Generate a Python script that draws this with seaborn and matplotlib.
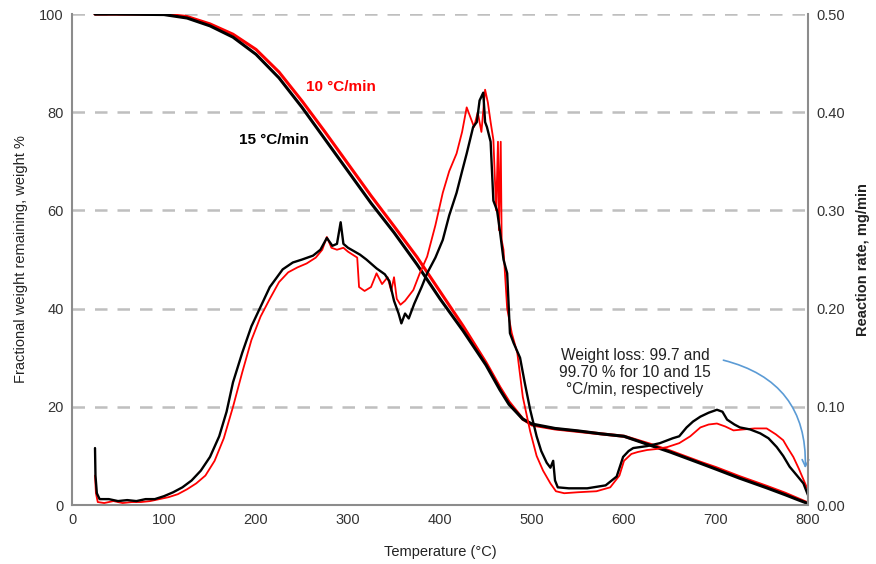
import matplotlib
matplotlib.use("Agg")
import matplotlib.pyplot as plt
import seaborn as sns
import pandas as pd

# TGA: fractional weight remaining (%)
tga_temp = [25, 50, 100, 125, 150, 175, 200, 225, 250, 275, 300, 325, 350, 375, 400,
            425, 450, 465, 475, 490, 500, 525, 550, 575, 600, 628, 650, 683, 700, 725,
            755, 775, 790, 800]
tga_15 = [100, 100, 99.9, 99.2, 97.6, 95.3, 91.8, 87, 81, 74.5, 68, 61.5, 55.5, 49, 42,
          35.5, 28.5, 23.5, 20.5, 17.5, 16.5, 15.6, 15.1, 14.5, 14.0, 12.2, 10.8, 8.5, 7.3, 5.5,
          3.5, 2.1, 1.0, 0.3]
tga_10 = [100, 100, 100, 99.5, 98.0, 95.9, 92.8, 88.2, 82.3, 76.0, 69.5, 63, 56.8, 50.5, 43.5,
          36.5, 29, 24, 21, 17.5, 16.3, 15.5, 15.0, 14.5, 14.0, 12.4, 11.0, 8.7, 7.6, 5.8,
          3.8, 2.4, 1.2, 0.4]

# DTG: reaction rate (mg/min), 15 C/min
dtg15_temp = [25, 25.5, 27, 30, 40, 50, 60, 70, 80, 90, 100, 110, 120, 130, 140, 150, 160, 168,
              175, 185, 195, 204, 215, 229, 240, 250, 262, 270, 277, 283, 288, 292, 295, 300,
              313, 320, 331, 340, 345, 350, 355, 358, 362, 366, 372, 380, 386, 395, 403, 410,
              418, 424, 429, 436, 440, 443, 447, 449, 451, 455, 458, 462, 465, 469, 473, 476,
              480, 487, 492, 498, 505, 510, 516, 520, 523, 525, 528, 540, 560, 580, 592, 599,
              605, 610, 625, 639, 653, 660, 668, 675, 683, 692, 701, 707, 712, 720, 726, 737,
              748, 757, 766, 773, 780, 788, 795, 800]
dtg15 = [0.058, 0.03, 0.012, 0.006, 0.006, 0.004, 0.005, 0.004, 0.006, 0.006, 0.009, 0.013,
         0.018, 0.025, 0.035, 0.049, 0.07, 0.095, 0.125, 0.155, 0.182, 0.2, 0.222, 0.24, 0.247,
         0.25, 0.254, 0.26, 0.272, 0.264, 0.266, 0.288, 0.266, 0.262, 0.255, 0.25, 0.241, 0.235,
         0.228, 0.208, 0.195, 0.185, 0.195, 0.19, 0.205, 0.222, 0.236, 0.252, 0.27, 0.295, 0.318,
         0.34, 0.358, 0.385, 0.39, 0.412, 0.42, 0.39, 0.385, 0.37, 0.31, 0.3, 0.28, 0.25, 0.236,
         0.175, 0.165, 0.15, 0.125, 0.097, 0.07, 0.055, 0.043, 0.038, 0.045, 0.025, 0.018, 0.017,
         0.017, 0.02, 0.029, 0.049, 0.055, 0.058, 0.06, 0.063, 0.068, 0.07, 0.079, 0.085, 0.09,
         0.094, 0.097, 0.095, 0.087, 0.082, 0.079, 0.077, 0.073, 0.068, 0.059, 0.05, 0.039, 0.03,
         0.022, 0.01]

# DTG: reaction rate (mg/min), 10 C/min
dtg10_temp = [25, 26, 28, 35, 45, 55, 65, 75, 85, 95, 105, 115, 125, 135, 145, 155, 165, 175,
              185, 195, 205, 215, 225, 235, 245, 255, 265, 272, 277, 282, 288, 295, 300, 305,
              310, 312, 318, 325, 331, 337, 343, 347, 350, 353, 357, 362, 371, 378, 386, 395,
              403, 410, 418, 424, 429, 433, 437, 441, 445, 449, 452, 455, 458, 461, 463, 464,
              466, 467, 469, 473, 478, 484, 490, 498, 505, 512, 520, 526, 535, 550, 570, 585,
              595, 600, 608, 615, 625, 635, 647, 660, 672, 683, 692, 701, 710, 719, 730, 742,
              755, 765, 773, 778, 784, 790, 795, 800]
dtg10 = [0.03, 0.012, 0.003, 0.002, 0.004, 0.002, 0.003, 0.003, 0.004, 0.006, 0.008, 0.011,
         0.016, 0.022, 0.03, 0.045, 0.068, 0.1, 0.135, 0.168, 0.192, 0.21, 0.227, 0.237, 0.242,
         0.246, 0.252, 0.26, 0.273, 0.262, 0.26, 0.262, 0.258, 0.255, 0.252, 0.222, 0.218, 0.222,
         0.236, 0.225, 0.232, 0.218, 0.232, 0.21, 0.204, 0.208, 0.219, 0.236, 0.253, 0.285, 0.318,
         0.34, 0.358, 0.38, 0.405, 0.395, 0.385, 0.4, 0.38, 0.423, 0.41, 0.39, 0.372, 0.3, 0.37,
         0.28, 0.37, 0.27, 0.26, 0.2, 0.175, 0.155, 0.11, 0.075, 0.05, 0.035, 0.022, 0.014, 0.012,
         0.013, 0.014, 0.018, 0.03, 0.045, 0.052, 0.054, 0.056, 0.057, 0.059, 0.063, 0.07, 0.079,
         0.082, 0.083, 0.08, 0.076, 0.077, 0.078, 0.078, 0.072, 0.066, 0.058, 0.049, 0.037, 0.026,
         0.015]

sns.set_theme(style="white")
plt.rcParams['font.family'] = ['Liberation Sans', 'DejaVu Sans']

fig = plt.figure(figsize=(8.76, 5.64), dpi=100)
ax = fig.add_axes([0.0822, 0.1046, 0.8402, 0.8704])
ax2 = ax.twinx()

tga = pd.DataFrame({'T': tga_temp, 'w10': tga_10, 'w15': tga_15})
d15 = pd.DataFrame({'T': dtg15_temp, 'r': dtg15})
d10 = pd.DataFrame({'T': dtg10_temp, 'r': dtg10})

red = '#ff0000'
sns.lineplot(data=d10, x='T', y='r', ax=ax2, color=red, lw=1.3, sort=False, estimator=None)
sns.lineplot(data=d15, x='T', y='r', ax=ax2, color='black', lw=1.7, sort=False, estimator=None)
sns.lineplot(data=tga, x='T', y='w10', ax=ax, color=red, lw=2.2, sort=False, estimator=None)
sns.lineplot(data=tga, x='T', y='w15', ax=ax, color='black', lw=2.2, sort=False, estimator=None)

ax.set_xlim(0, 800)
ax.set_ylim(0, 100)
ax2.set_ylim(0, 0.5)
ax.set_xticks(range(0, 801, 100))
ax.set_yticks(range(0, 101, 20))
ax2.set_yticks([0, 0.1, 0.2, 0.3, 0.4, 0.5])
ax2.set_yticklabels([f'{v:.2f}' for v in [0, 0.1, 0.2, 0.3, 0.4, 0.5]])

for g in [20, 40, 60, 80, 100]:
    ax.axhline(g, color='#bfbfbf', lw=1.8, ls=(0, (5, 4)), zorder=0)

for a in (ax, ax2):
    for s in a.spines.values():
        s.set_visible(False)
    a.tick_params(length=0, labelsize=10.5, colors='#333333', pad=6)
ax.spines['left'].set_visible(True)
ax.spines['bottom'].set_visible(True)
ax2.spines['right'].set_visible(True)
for s in (ax.spines['left'], ax.spines['bottom'], ax2.spines['right']):
    s.set_color('#8c8c8c')
    s.set_linewidth(1.5)

ax.set_xlabel('Temperature (°C)', fontsize=10.5, color='#222222', labelpad=13)
ax.set_ylabel('Fractional weight remaining, weight %', fontsize=10.5, color='#222222', labelpad=8)
ax2.set_ylabel('Reaction rate, mg/min', fontsize=10.5, fontweight='bold', color='#222222', labelpad=8)

ax.text(292, 85.1, '10 °C/min', color=red, fontsize=11, fontweight='bold', ha='center', va='center')
ax.text(220, 74.3, '15 °C/min', color='black', fontsize=11, fontweight='bold', ha='center', va='center')

ax.text(612, 27.0, 'Weight loss: 99.7 and\n99.70 % for 10 and 15\n°C/min, respectively',
        fontsize=11.2, color='#222222', ha='center', va='center', linespacing=1.2)
ax.annotate('', xy=(797, 7.5), xytext=(708, 29.5),
            arrowprops=dict(arrowstyle='->', color='#5b9bd5', lw=1.2,
                            connectionstyle='arc3,rad=-0.4',
                            shrinkA=0, shrinkB=0))

fig.savefig('out.png', dpi=100)
